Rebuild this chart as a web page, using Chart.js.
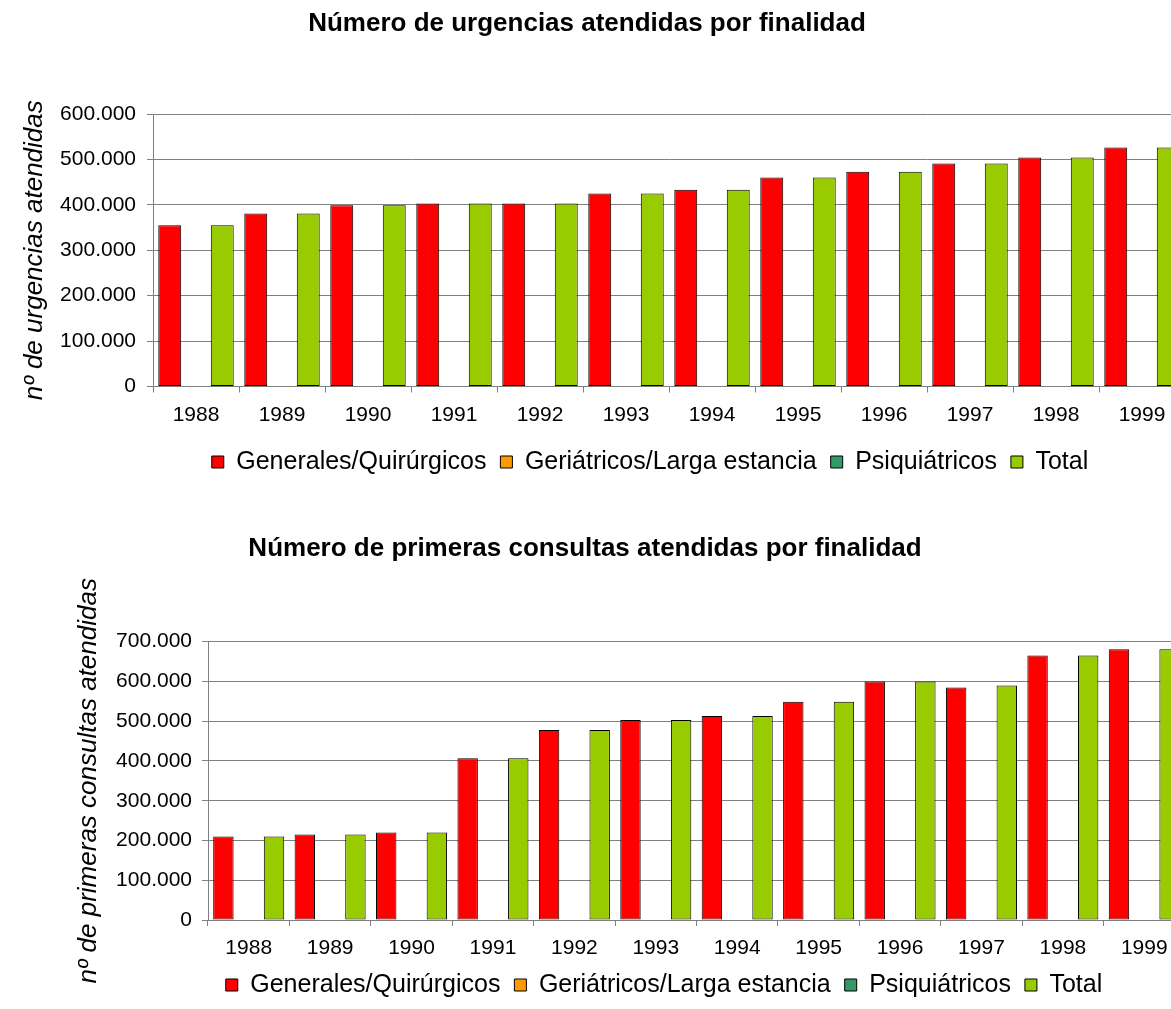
<!DOCTYPE html>
<html lang="es">
<head>
<meta charset="UTF-8" />
<title>Urgencias y primeras consultas por finalidad</title>
<script src="https://cdn.jsdelivr.net/npm/chart.js"></script>
<style>
  html, body { margin: 0; padding: 0; overflow: hidden; background: #fff; }
  .box { position: absolute; left: 0; }
  #box1 { top: 0; }
  #box2 { top: 500px; }
</style>
</head>
<body>
<div class="box" id="box1"><canvas id="chart1" width="1200" height="500"></canvas></div>
<div class="box" id="box2"><canvas id="chart2" width="1200" height="509"></canvas></div>
<script>
const years = ["1988", "1989", "1990", "1991", "1992", "1993", "1994", "1995", "1996", "1997", "1998", "1999"];
const seriesNames = ["Generales/Quirúrgicos", "Geriátricos/Larga estancia", "Psiquiátricos", "Total"];
const seriesColors = ["#FF0000", "#FF9900", "#339966", "#99CC00"];

// urgencias atendidas
const urgGenerales = [355000, 381000, 399000, 403000, 403000, 425000, 433000, 460000, 473000, 491000, 504000, 526000];
const urgGeriatricos = [0, 0, 0, 0, 0, 0, 0, 0, 0, 0, 0, 0];
const urgPsiquiatricos = [0, 0, 0, 0, 0, 0, 0, 0, 0, 0, 0, 0];
const urgTotal = [355000, 381000, 399000, 403000, 403000, 425000, 433000, 460000, 473000, 491000, 504000, 526000];

// primeras consultas atendidas
const consGenerales = [210000, 215000, 220000, 407000, 478000, 503000, 513000, 549000, 600000, 585000, 665000, 681000];
const consGeriatricos = [0, 0, 0, 0, 0, 0, 0, 0, 0, 0, 0, 0];
const consPsiquiatricos = [0, 0, 0, 0, 0, 0, 0, 0, 0, 0, 0, 0];
const consTotal = [210000, 215000, 220000, 407000, 478000, 503000, 513000, 549000, 600000, 590000, 665000, 681000];

const urgMax = 600000;
const consMax = 700000;
const yStep = 100000;

Chart.defaults.font.family = "'Liberation Sans', Arial, sans-serif";
Chart.defaults.color = "#000";

function thousands(v) {
  return String(v).replace(/\B(?=(\d{3})+(?!\d))/g, ".");
}

// move title and legend to the centre they have in the original
const nudge = {
  id: "nudge",
  afterLayout(chart, args, opts) {
    const move = (box, cx) => {
      if (!box || cx == null) return;
      const dx = cx - (box.left + box.right) / 2;
      box.left += dx;
      box.right += dx;
    };
    move(chart.titleBlock, opts.titleX);
    move(chart.legend, opts.legendX);
  },
};

function makeChart(id, o) {
  const datasets = o.series.map((data, i) => ({
    label: seriesNames[i],
    data: data,
    backgroundColor: seriesColors[i],
    borderColor: "#000",
    borderWidth: 1,
    borderSkipped: false,
    inflateAmount: 0,
    categoryPercentage: o.catPct,
    barPercentage: o.barPct,
  }));

  return new Chart(document.getElementById(id), {
    type: "bar",
    data: { labels: years, datasets: datasets },
    plugins: [nudge],
    options: {
      responsive: false,
      animation: false,
      layout: { padding: { left: 0, right: 15, top: 0, bottom: o.padBottom } },
      plugins: {
        tooltip: { enabled: false },
        nudge: { titleX: o.titleX, legendX: o.legendX },
        title: {
          display: true,
          text: o.title,
          color: "#000",
          font: { size: 26, weight: "bold" },
          padding: { top: o.titleTop, bottom: o.titleBottom },
        },
        legend: {
          position: "bottom",
          labels: { boxWidth: 12, boxHeight: 12, padding: 14, font: { size: 25 } },
        },
      },
      scales: {
        x: {
          grid: { drawOnChartArea: false, tickLength: 6, color: "#808080" },
          border: { color: "#808080" },
          ticks: { font: { size: 21 }, padding: 10, maxRotation: 0, autoSkip: false },
          afterFit: (s) => { s.height = o.xAxisHeight; },
        },
        y: {
          min: 0,
          max: o.yMax,
          ticks: { stepSize: yStep, font: { size: 21 }, padding: o.yTickPad, callback: (v) => thousands(v) },
          grid: { color: "#808080", tickLength: 6 },
          border: { color: "#808080" },
          title: {
            display: true,
            text: o.yTitle,
            font: { size: 26, style: "italic" },
            padding: { top: o.yTitlePad, bottom: 0 },
          },
          afterFit: (s) => { s.width = o.yAxisWidth; },
        },
      },
    },
  });
}

makeChart("chart1", {
  title: "Número de urgencias atendidas por finalidad",
  yTitle: "nº de urgencias atendidas",
  series: [urgGenerales, urgGeriatricos, urgPsiquiatricos, urgTotal],
  yMax: urgMax,
  titleTop: 8,
  titleBottom: 74.8,
  padBottom: 15.5,
  xAxisHeight: 49,
  yAxisWidth: 153,
  yTickPad: 11,
  yTitlePad: 19,
  catPct: 0.814,
  barPct: 1.31,
  titleX: 587,
  legendX: 650,
});

makeChart("chart2", {
  title: "Número de primeras consultas atendidas por finalidad",
  yTitle: "nº de primeras consultas atendidas",
  series: [consGenerales, consGeriatricos, consPsiquiatricos, consTotal],
  yMax: consMax,
  titleTop: 33,
  titleBottom: 77.5,
  padBottom: 1.5,
  xAxisHeight: 38.5,
  yAxisWidth: 208,
  yTickPad: 10,
  yTitlePad: 73,
  catPct: 0.829,
  barPct: 1.21,
  titleX: 585,
  legendX: 664,
});
</script>
</body>
</html>
